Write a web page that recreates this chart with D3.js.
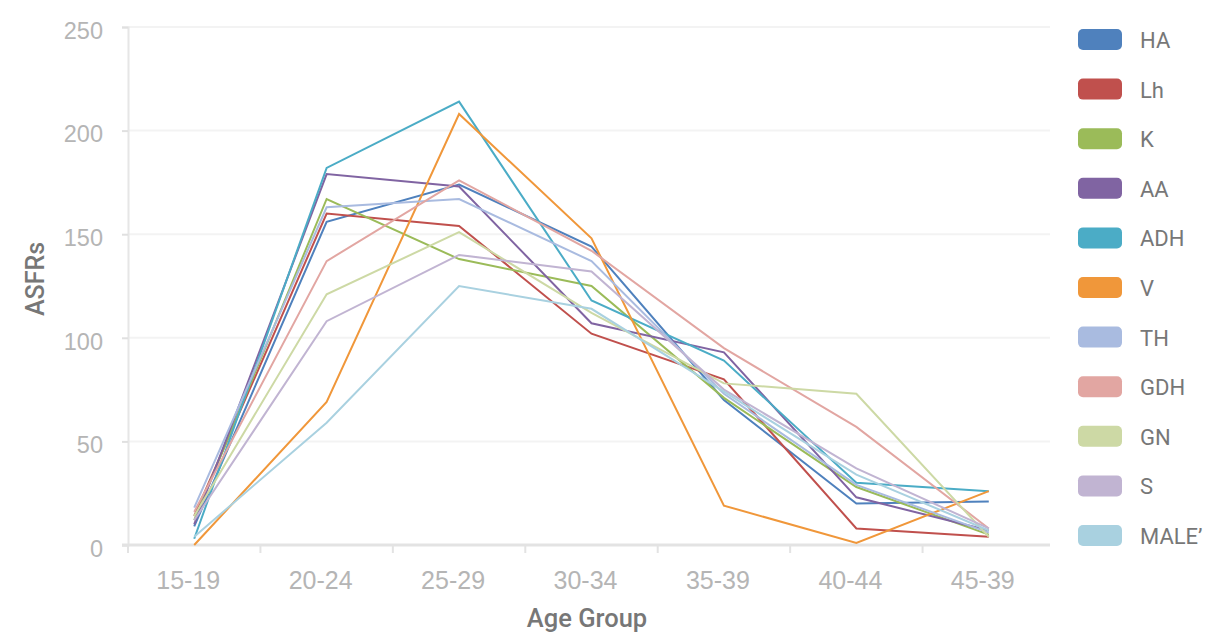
<!DOCTYPE html>
<html>
<head>
<meta charset="utf-8">
<script src="https://cdn.jsdelivr.net/npm/d3@7"></script>
<style>
  body { margin: 0; background: #fff; }
  svg { font-family: Roboto, "Noto Sans", sans-serif; }
</style>
</head>
<body>
<div id="chart"></div>
<script>
var ageGroups = ['15-19', '20-24', '25-29', '30-34', '35-39', '40-44', '45-39'];
var seriesNames = ['HA', 'Lh', 'K', 'AA', 'ADH', 'V', 'TH', 'GDH', 'GN', 'S', 'MALE’'];
var seriesColors = ['#4f81bd', '#c0504d', '#9bbb59', '#8064a2', '#4bacc6', '#f0973a',
                    '#a9bbe0', '#e2a6a2', '#cdd9a5', '#c1b4d2', '#a9d1e0'];

var HA   = [9, 156, 174, 144, 70, 20, 21];
var Lh   = [14, 160, 154, 102, 80, 8, 4];
var K    = [12, 167, 138, 125, 71, 28, 5];
var AA   = [10, 179, 173, 107, 93, 23, 7];
var ADH  = [3, 182, 214, 118, 89, 30, 26];
var V    = [0, 69, 208, 148, 19, 1, 26];
var TH   = [18, 163, 167, 137, 73, 29, 6];
var GDH  = [16, 137, 176, 142, 95, 57, 8];
var GN   = [14, 121, 151, 112, 78, 73, 4];
var S    = [12, 108, 140, 132, 75, 37, 8];
var MALE = [4, 59, 125, 114, 74, 34, 7];
var allSeries = [HA, Lh, K, AA, ADH, V, TH, GDH, GN, S, MALE];

var yTicks = [0, 50, 100, 150, 200, 250];

var svg = d3.select('#chart').append('svg')
    .attr('width', 1218)
    .attr('height', 634);

var xScale = d3.scaleBand()
    .domain(ageGroups)
    .range([128, 1055]);

var yScale = d3.scaleLinear()
    .domain([0, 250])
    .range([545, 27]);

// grid
svg.append('g').selectAll('line')
    .data(yTicks.slice(1))
    .enter().append('line')
    .attr('x1', 128).attr('x2', 1050)
    .attr('y1', function(d){ return yScale(d); })
    .attr('y2', function(d){ return yScale(d); })
    .attr('stroke', '#f3f3f3')
    .attr('stroke-width', 2);

// y axis
var yAxis = d3.axisLeft(yScale).tickValues(yTicks).tickSize(6).tickPadding(19);
var gy = svg.append('g').attr('transform', 'translate(128,0)').call(yAxis);
gy.select('.domain').attr('stroke', '#e6e6e6').attr('stroke-width', 2);
gy.selectAll('.tick line').attr('stroke', '#e0e0e0').attr('stroke-width', 2);
gy.selectAll('.tick text').attr('fill', '#b5b5b5').attr('font-size', 23.5).attr('dy', '0.48em');

// x axis
var xAxis = d3.axisBottom(xScale).tickSize(0).tickPadding(26);
var gx = svg.append('g').attr('transform', 'translate(0,545)').call(xAxis);
gx.select('.domain').remove();
gx.append('line').attr('x1', 122).attr('x2', 1050)
    .attr('stroke', '#e3e3e3').attr('stroke-width', 3);
gx.selectAll('.bound')
    .data(ageGroups)
    .enter().append('line')
    .attr('x1', function(d){ return xScale(d); })
    .attr('x2', function(d){ return xScale(d); })
    .attr('y1', 0).attr('y2', 8)
    .attr('stroke', '#e3e3e3').attr('stroke-width', 2);
gx.selectAll('.tick text').attr('fill', '#b5b5b5').attr('font-size', 25).attr('dx', -6);

// lines
var line = d3.line()
    .x(function(d, i){ return xScale(ageGroups[i]) + xScale.bandwidth() / 2; })
    .y(function(d){ return yScale(d); });

svg.append('g').selectAll('path')
    .data(allSeries)
    .enter().append('path')
    .attr('d', line)
    .attr('fill', 'none')
    .attr('stroke', function(d, i){ return seriesColors[i]; })
    .attr('stroke-width', 2);

// axis titles
svg.append('text')
    .attr('x', 587).attr('y', 627)
    .attr('text-anchor', 'middle')
    .attr('fill', '#777')
    .attr('font-size', 25.5)
    .attr('font-weight', 500)
    .text('Age Group');

svg.append('text')
    .attr('transform', 'translate(44,279) rotate(-90)')
    .attr('text-anchor', 'middle')
    .attr('fill', '#777')
    .attr('font-size', 25)
    .attr('font-weight', 500)
    .text('ASFRs');

// legend
var legend = svg.append('g').selectAll('g')
    .data(seriesNames)
    .enter().append('g')
    .attr('transform', function(d, i){ return 'translate(1078,' + (39 + i * 49.6) + ')'; });

legend.append('rect')
    .attr('x', 0).attr('y', -10)
    .attr('width', 44).attr('height', 21)
    .attr('rx', 5)
    .attr('fill', function(d, i){ return seriesColors[i]; });

legend.append('text')
    .attr('x', 62).attr('y', 9)
    .attr('fill', '#777')
    .attr('font-size', 22)
    .text(function(d){ return d; });
</script>
</body>
</html>
